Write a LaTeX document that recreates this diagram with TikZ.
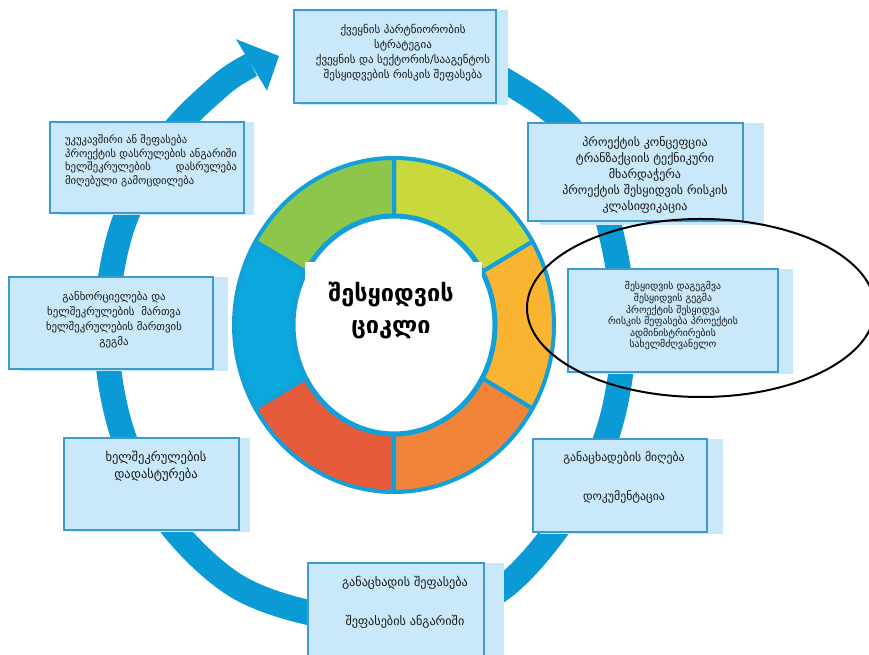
\documentclass[tikz,border=0pt]{standalone}
\usepackage{fontspec}
\usepackage{calc}
\setmainfont{DejaVu Sans}
\usetikzlibrary{calc}
\definecolor{ringblue}{RGB}{10,155,215}
\definecolor{boxfill}{RGB}{201,232,249}
\definecolor{boxborder}{RGB}{61,154,209}
\definecolor{dblue}{RGB}{18,160,218}
\definecolor{sgreen}{RGB}{141,198,75}
\definecolor{syellow}{RGB}{201,217,59}
\definecolor{samber}{RGB}{251,180,50}
\definecolor{sorange}{RGB}{242,132,58}
\definecolor{sred}{RGB}{230,92,59}
\definecolor{sblue}{RGB}{11,168,222}
\tikzset{
  shadowbox/.style={fill=boxfill},
  infobox/.style={fill=boxfill, draw=boxborder, line width=1.3pt},
  boxtext/.style={align=center, inner sep=0pt, text=black!90},
  seg/.style={draw=dblue, line width=4pt, line join=round},
}
\begin{document}
\begin{tikzpicture}[x=1pt,y=1pt]
\useasboundingbox (0,0) rectangle (869,655);
\clip (0,0) rectangle (869,655);
% big ring with arrow
\draw[ringblue, line width=25pt] plot[smooth, tension=0.55] coordinates {
  (320,615.5) (410,615.5) (494.5,580.5) (576,520) (610,426) (624,325)
  (608.4,224.1) (563.4,135.4) (497,63) (410,34.5) (320,40) (235.5,69.5)
  (166.6,135.4) (121.6,224.1) (106,325) (121.6,425.9) (166.6,514.6)
  (220.2,569.6) (251.5,590.1)};
\fill[ringblue] (236,615.8) -- (279,599) -- (267,564.4) -- cycle;
% donut
\coordinate (D) at (394,330);
\foreach \a/\b/\c in {30/90/syellow, 90/150/sgreen, 150/210/sblue, 210/270/sred, 270/330/sorange, 330/390/samber}{
  \filldraw[seg, fill=\c] (D) -- ++(\a:160pt and 167pt)
    arc[start angle=\a, end angle=\b, x radius=160pt, y radius=167pt] -- cycle;
}
\filldraw[fill=white, draw=dblue, line width=5pt] (D) ellipse[x radius=101pt, y radius=109pt];
\fill[white] (305,300) rectangle (482,393);
\node[boxtext, font=\fontsize{23.5}{32}\selectfont\bfseries, text=black] (title) at (391,344) {შესყიდვის\\ციკლი};
% boxes
\fill[shadowbox] (300,550) rectangle (508,645);
\filldraw[infobox] (294,552) rectangle (496,645);
\fill[shadowbox] (540,430) rectangle (764,532);
\filldraw[infobox] (528,434) rectangle (743,532);
\fill[shadowbox] (580,281) rectangle (793,386);
\filldraw[infobox] (568,283) rectangle (778,386);
\fill[shadowbox] (60,440) rectangle (254,533);
\filldraw[infobox] (50,442) rectangle (244,533);
\fill[shadowbox] (20,284) rectangle (228,378);
\filldraw[infobox] (9,286) rectangle (213,378);
\fill[shadowbox] (70,123) rectangle (250,217);
\filldraw[infobox] (64,125) rectangle (239,217);
\fill[shadowbox] (540,121) rectangle (723,216);
\filldraw[infobox] (533,123) rectangle (707,216);
\fill[shadowbox] (320,-5) rectangle (504,92);
\filldraw[infobox] (308,-5) rectangle (484,92);
% texts
\node[boxtext, font=\fontsize{11}{15}\selectfont] (t1) at (403,602.5)
  {ქვეყნის პარტნიორობის\\სტრატეგია\\ქვეყნის და სექტორის/სააგენტოს\\შესყიდვების რისკის შეფასება};
\node[boxtext, font=\fontsize{12}{16}\selectfont] (t2) at (645,480.5)
  {პროექტის კონცეფცია\\ტრანზაქციის ტექნიკური\\მხარდაჭერა\\პროექტის შესყიდვის რისკის\\კლასიფიკაცია};
\node[boxtext, font=\fontsize{9.8}{11.6}\selectfont] (t3) at (673,339)
  {შესყიდვის დაგეგმვა\\შესყიდვის გეგმა\\პროექტის შესყიდვა\\რისკის შეფასება პროექტის\\ადმინისტრირების\\სახელმძღვანელო};
\node[boxtext, align=left, anchor=west, font=\fontsize{10.6}{13.5}\selectfont] (t8) at (65,494)
  {უკუკავშირი ან შეფასება\\პროექტის დასრულების ანგარიში\\\makebox[\widthof{პროექტის დასრულების ანგარიში}][l]{ხელშეკრულების\hfill დასრულება}\\მიღებული გამოცდილება};
\node[boxtext, font=\fontsize{10.8}{15}\selectfont] (t7) at (114,335.5)
  {განხორციელება და\\ხელშეკრულების\ \ მართვა\\ხელშეკრულების მართვის\\გეგმა};
\node[boxtext, font=\fontsize{12.5}{17}\selectfont] (t6) at (156,188.5)
  {ხელშეკრულების\\დადასტურება};
\node[boxtext, font=\fontsize{11.8}{19.5}\selectfont] (t4) at (624,177.5)
  {განაცხადების მიღება\\[19.5pt]დოკუმენტაცია};
\node[boxtext, font=\fontsize{12.2}{19.5}\selectfont] (t5) at (405,52.5)
  {განაცხადის შეფასება\\[19.5pt]შეფასების ანგარიში};
% highlight ellipse
\draw[black, line width=2pt] (701,347) ellipse[x radius=174pt, y radius=89pt];
\end{tikzpicture}
\end{document}
